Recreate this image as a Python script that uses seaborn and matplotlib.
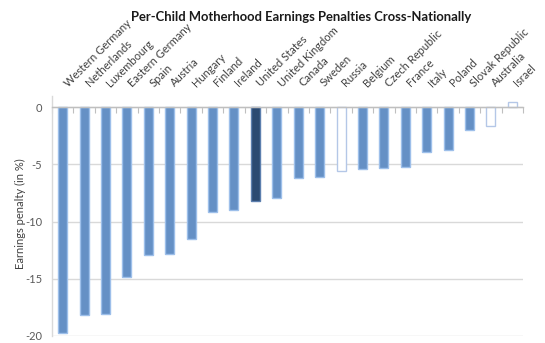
import matplotlib
matplotlib.use("Agg")
import matplotlib.pyplot as plt
import matplotlib.transforms as mtransforms
import seaborn as sns
import pandas as pd
import numpy as np

countries = ["Western Germany", "Netherlands", "Luxembourg", "Eastern Germany", "Spain",
             "Austria", "Hungary", "Finland", "Ireland", "United States", "United Kingdom",
             "Canada", "Sweden", "Russia", "Belgium", "Czech Republic", "France", "Italy",
             "Poland", "Slovak Republic", "Australia", "Israel"]
penalties = [-19.7, -18.2, -18.1, -14.8, -12.9, -12.8, -11.5, -9.2, -8.95, -8.2, -7.9,
             -6.15, -6.1, -5.6, -5.4, -5.35, -5.25, -3.95, -3.75, -2.0, -1.6, 0.45]
groups = ["sig", "sig", "sig", "sig", "sig", "sig", "sig", "sig", "sig", "us", "sig",
          "sig", "sig", "ns", "sig", "sig", "sig", "sig", "sig", "sig", "ns", "ns"]
y_ticks = [0, -5, -10, -15, -20]

df = pd.DataFrame({"country": countries, "penalty": penalties, "group": groups})

sns.set_style("white")
plt.rcParams["font.family"] = ["Lato", "DejaVu Sans"]

fig = plt.figure(figsize=(5.45, 3.43), dpi=100)
ax = fig.add_axes([52 / 545, 1 - 336 / 343, (523 - 52) / 545, (336 - 95.8) / 343])

palette = {"sig": "#558ED5", "us": "#1F497D", "ns": "#FFFFFF"}
edges = {"sig": "#9DBFEA", "us": "#5C7FAE", "ns": "#B4C7E7"}
sns.barplot(data=df, x="country", y="penalty", hue="group", palette=palette,
            hue_order=["sig", "us", "ns"], order=countries, dodge=False,
            width=0.42, legend=False, ax=ax, zorder=3)
for cont, g in zip(ax.containers, ["sig", "us", "ns"]):
    for p in cont:
        p.set_edgecolor(edges[g])
        p.set_linewidth(1.0)

ax.set_xlim(-0.5, len(countries) - 0.5)
ax.set_ylim(-20, 1)
ax.set_yticks(y_ticks)
ax.set_yticklabels([str(v) for v in y_ticks])
ax.yaxis.grid(True, color="#D9D9D9", linewidth=1.0, zorder=0)
ax.xaxis.grid(False)

for s in ["top", "right"]:
    ax.spines[s].set_visible(False)
ax.spines["left"].set_color("#D9D9D9")
ax.spines["left"].set_linewidth(1.0)
ax.spines["bottom"].set_position(("data", 0))
ax.spines["bottom"].set_color("#BFBFBF")
ax.spines["bottom"].set_linewidth(1.0)
ax.spines["bottom"].set_zorder(4)

ax.set_xticks(range(len(countries)))
ax.set_xticklabels(countries)
ax.set_xticks(np.arange(-0.5, len(countries), 1.0), minor=True)
ax.tick_params(axis="x", which="major", bottom=False, top=False, labelbottom=False,
               labeltop=True, length=0, pad=8, labelsize=8, labelcolor="#404040")
ax.tick_params(axis="x", which="minor", bottom=True, top=False, length=4,
               width=0.8, color="#BFBFBF", direction="out")
offset = mtransforms.ScaledTranslation(3 / 100, 0, fig.dpi_scale_trans)
for lab in ax.get_xticklabels():
    lab.set_rotation(45)
    lab.set_rotation_mode("anchor")
    lab.set_ha("left")
    lab.set_va("center")
    lab.set_transform(lab.get_transform() + offset)
ax.tick_params(axis="y", length=0, pad=7, labelsize=8, labelcolor="#595959")

ax.set_xlabel("")
ax.set_ylabel("")
fig.text(20 / 545, 1 - 214 / 343, "Earnings penalty (in %)", rotation=90,
         ha="center", va="center", fontsize=8, color="#404040")

fig.text(301 / 545, 1 - 17 / 343, "Per-Child Motherhood Earnings Penalties Cross-Nationally",
         ha="center", va="center", fontsize=9.4, fontweight="bold", color="#1a1a1a")

fig.savefig("out.png", dpi=100)
